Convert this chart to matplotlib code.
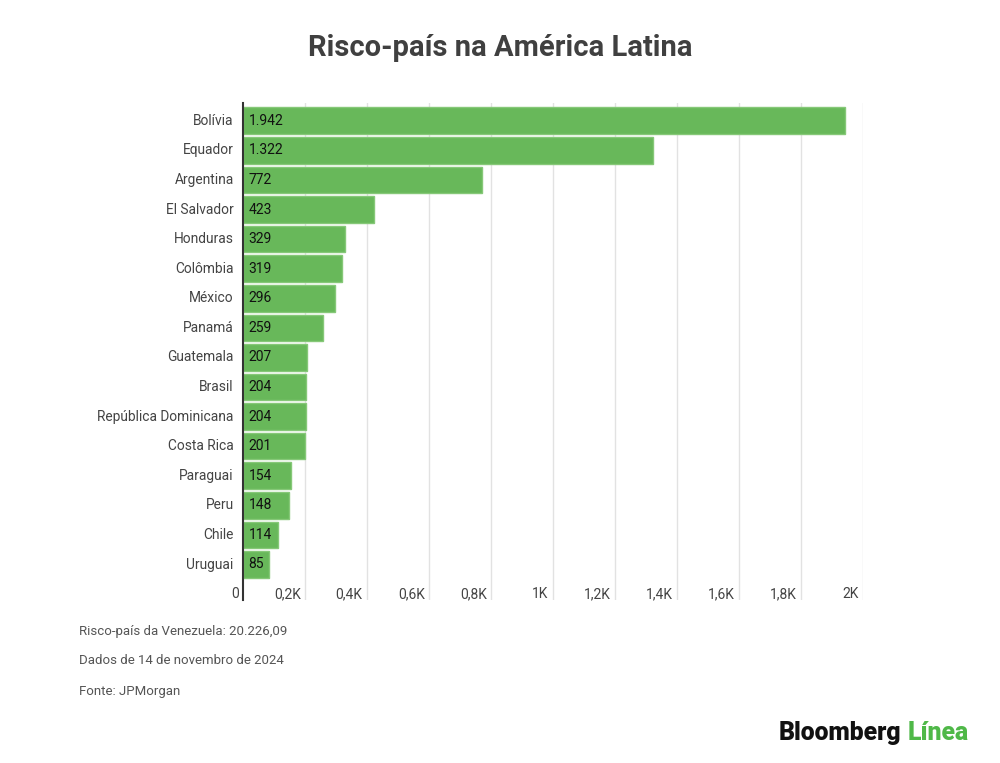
import matplotlib.pyplot as plt

plt.rcParams['font.family'] = ['Roboto', 'DejaVu Sans']

countries = ['Bolívia', 'Equador', 'Argentina', 'El Salvador', 'Honduras', 'Colômbia',
             'México', 'Panamá', 'Guatemala', 'Brasil', 'República Dominicana',
             'Costa Rica', 'Paraguai', 'Peru', 'Chile', 'Uruguai']
values = [1942, 1322, 772, 423, 329, 319, 296, 259, 207, 204, 204, 201, 154, 148, 114, 85]
ticks = [0, 200, 400, 600, 800, 1000, 1200, 1400, 1600, 1800, 2000]
tick_labels = ['0', '0,2K', '0,4K', '0,6K', '0,8K', '1K', '1,2K', '1,4K', '1,6K', '1,8K', '2K']

green = '#68b85a'
text_col = '#444444'

fig = plt.figure(figsize=(10, 7.63), dpi=100)
ax = fig.add_axes([0.243, 1 - 600 / 763, 0.620, (600 - 103) / 763])

y = list(range(len(countries)))
ax.barh(y, values, height=0.9, color=green, edgecolor='#86c878', linewidth=1, zorder=2)

for i, v in enumerate(values):
    lbl = f'{v:,}'.replace(',', '.')
    ax.text(18, i, lbl, va='center', ha='left', fontsize=10,
            color='#111111', zorder=3)

for i, c in enumerate(countries):
    ax.text(-30, i, c, va='center', ha='right', fontsize=9.9, color=text_col)

ax.set_xlim(0, 2000)
ax.set_ylim(16.2, -0.6)

for t, lab in zip(ticks, tick_labels):
    if t > 0:
        ax.axvline(t, color='#e2e2e2', linewidth=1, zorder=1)
    ax.text(t - 14, 16.0, lab, va='center', ha='right', fontsize=10, color=text_col)

ax.set_xticks([])
ax.set_yticks([])
for s in ['top', 'right', 'bottom']:
    ax.spines[s].set_visible(False)
ax.spines['left'].set_color('#333333')
ax.spines['left'].set_linewidth(1.5)
ax.spines['left'].set_zorder(4)

fig.text(0.5, 1 - 48 / 763, 'Risco-país na América Latina', ha='center', va='center',
         fontsize=21, fontweight='bold', color='#404040')

fig.text(0.079, 1 - 632 / 763, 'Risco-país da Venezuela: 20.226,09', ha='left', va='center',
         fontsize=9.5, color='#555555')
fig.text(0.079, 1 - 660 / 763, 'Dados de 14 de novembro de 2024', ha='left', va='center',
         fontsize=9.5, color='#555555')
fig.text(0.079, 1 - 692 / 763, 'Fonte: JPMorgan', ha='left', va='center',
         fontsize=9.5, color='#555555')

t1 = fig.text(0.779, 1 - 733 / 763, 'Bloomberg', ha='left', va='center',
              fontsize=17.8, fontweight='black', color='#111111')
fig.canvas.draw()
bb = t1.get_window_extent()
fig.text(bb.x1 / 1000 + 0.006, 1 - 733 / 763, 'Línea', ha='left', va='center',
         fontsize=17.8, fontweight='black', color='#4fb848')

fig.savefig('out.png', dpi=100)
